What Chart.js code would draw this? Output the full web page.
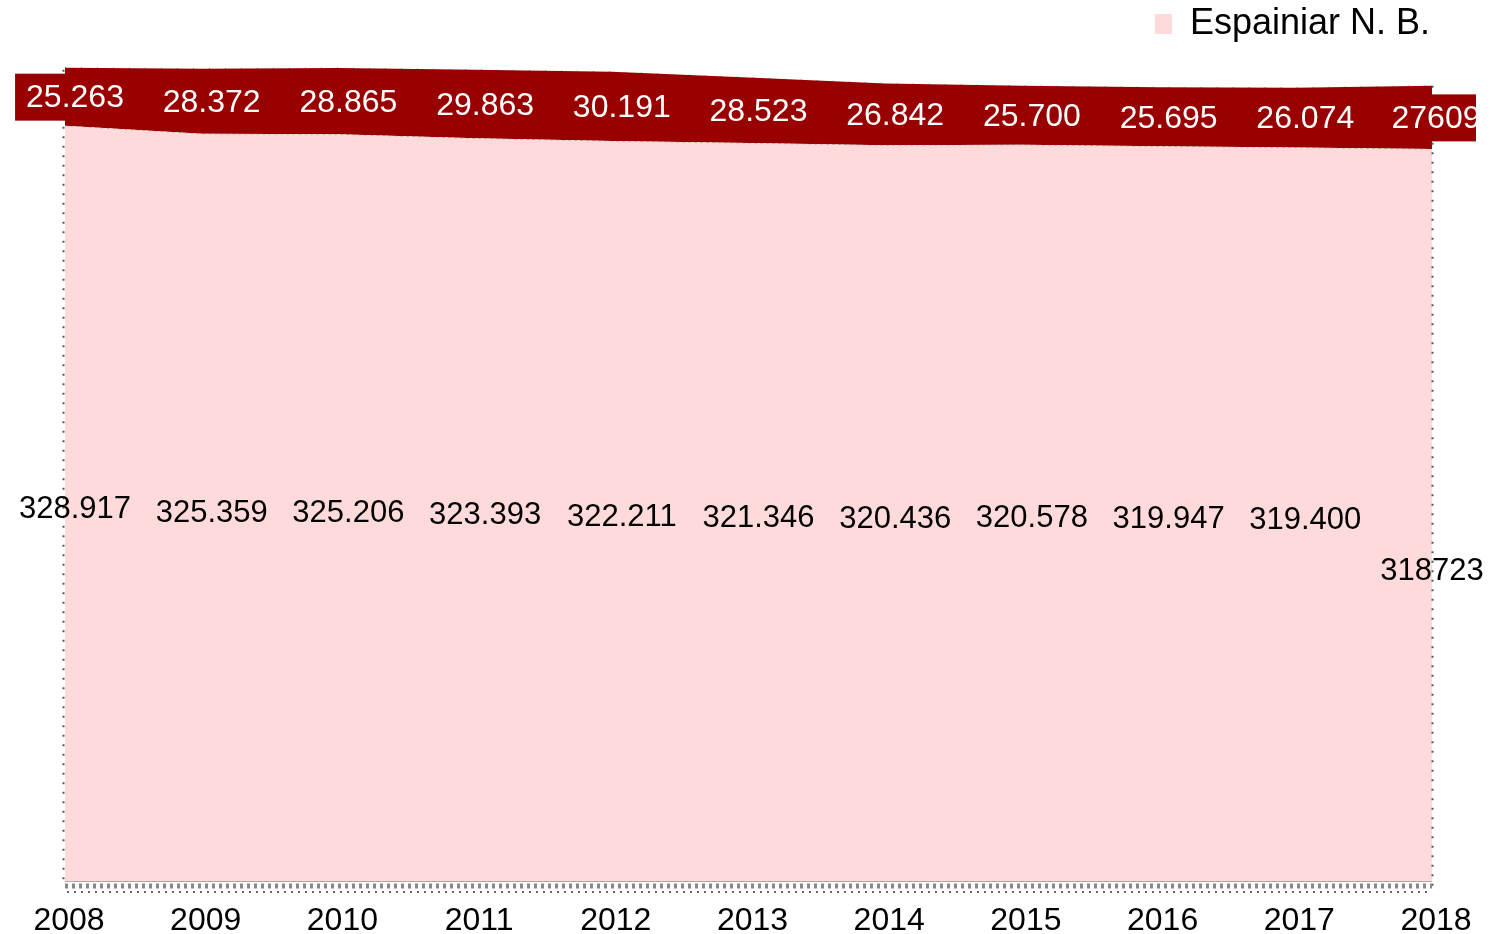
<!DOCTYPE html>
<html>
<head>
<meta charset="utf-8">
<script src="https://cdn.jsdelivr.net/npm/chart.js@4"></script>
<style>
  body { margin: 0; background: #fff; }
</style>
</head>
<body>
<canvas id="chart" width="1501" height="934"></canvas>
<script>
// Years on the x axis
const years = ['2008', '2009', '2010', '2011', '2012', '2013', '2014', '2015', '2016', '2017', '2018'];

// Espainiar N. B. (bottom, pink area)
const nbValues = [328917, 325359, 325206, 323393, 322211, 321346, 320436, 320578, 319947, 319400, 318723];
const nbLabels = ['328.917', '325.359', '325.206', '323.393', '322.211', '321.346', '320.436', '320.578', '319.947', '319.400', '318723'];

// Second series (top, dark red band)
const otherValues = [25263, 28372, 28865, 29863, 30191, 28523, 26842, 25700, 25695, 26074, 27609];
const otherLabels = ['25.263', '28.372', '28.865', '29.863', '30.191', '28.523', '26.842', '25.700', '25.695', '26.074', '27609'];

const pink = '#FFDADA';
const darkRed = '#990000';
const font = '"Liberation Sans", Arial, sans-serif';

// Draws the dotted frame lines and the value labels
const labelPlugin = {
    id: 'valueLabels',
    afterDatasetsDraw(chart) {
        const ctx = chart.ctx;
        const area = chart.chartArea;
        const yScale = chart.scales.y;
        const base = chart.getDatasetMeta(0).data;
        const top = chart.getDatasetMeta(1).data;
        const y0 = yScale.getPixelForValue(0);

        ctx.save();
        // dotted verticals at both sides
        ctx.strokeStyle = '#555';
        ctx.lineWidth = 2;
        ctx.setLineDash([2, 7.5]);
        ctx.beginPath();
        ctx.moveTo(area.left - 1.5, top[0].y + 2);
        ctx.lineTo(area.left - 1.5, y0 + 3);
        ctx.moveTo(area.right + 0.5, top[top.length - 1].y);
        ctx.lineTo(area.right + 0.5, y0 + 12);
        ctx.stroke();

        // bottom axis: gray line, hatch row and dots row
        ctx.setLineDash([]);
        ctx.lineWidth = 1;
        ctx.strokeStyle = '#aaa';
        ctx.beginPath();
        ctx.moveTo(area.left, y0 + 0.5);
        ctx.lineTo(area.right, y0 + 0.5);
        ctx.stroke();
        ctx.strokeStyle = '#888';
        ctx.lineWidth = 5;
        ctx.setLineDash([3, 4]);
        ctx.beginPath();
        ctx.moveTo(area.left, y0 + 5);
        ctx.lineTo(area.right, y0 + 5);
        ctx.stroke();
        ctx.strokeStyle = '#666';
        ctx.lineWidth = 2;
        ctx.setLineDash([2, 5]);
        ctx.beginPath();
        ctx.moveTo(area.left + 2, y0 + 11);
        ctx.lineTo(area.right, y0 + 11);
        ctx.stroke();
        ctx.restore();

        ctx.save();
        ctx.textAlign = 'center';
        ctx.textBaseline = 'middle';
        base.forEach((pt, i) => {
            const last = i === base.length - 1;
            const dx = last ? 0 : 10;

            // pink area label, in the middle of its band
            const py = (pt.y + y0) / 2 + (last ? 56 : 6);
            ctx.font = '31px ' + font;
            ctx.fillStyle = '#000';
            ctx.fillText(nbLabels[i], pt.x + dx, py);

            // dark red label with its own box
            ctx.font = '32px ' + font;
            const tx = pt.x + (last ? 4 : dx);
            const ty = (top[i].y + pt.y) / 2;
            const w = ctx.measureText(otherLabels[i]).width + 22;
            ctx.save();
            ctx.beginPath();
            ctx.rect(0, 0, area.right + 44, chart.height);
            ctx.clip();
            ctx.fillStyle = darkRed;
            ctx.fillRect(tx - w / 2, ty - 23, w, 47);
            ctx.fillStyle = '#fff';
            ctx.fillText(otherLabels[i], tx, ty + 2);
            ctx.restore();
        });
        ctx.restore();
    }
};

const ctx = document.getElementById('chart').getContext('2d');
new Chart(ctx, {
    type: 'line',
    data: {
        labels: years,
        datasets: [{
            label: 'Espainiar N. B.',
            data: nbValues,
            backgroundColor: pink,
            borderColor: 'rgba(90,90,90,0.5)',
            borderWidth: 1,
            borderDash: [2, 4],
            fill: 'origin',
            pointRadius: 0,
            tension: 0
        }, {
            label: 'Atzerritarrak',
            data: otherValues,
            backgroundColor: darkRed,
            borderColor: 'rgba(60,60,60,0.7)',
            borderWidth: 1,
            borderDash: [1, 15],
            fill: '-1',
            pointRadius: 0,
            tension: 0
        }]
    },
    options: {
        responsive: false,
        animation: false,
        layout: {
            padding: { left: 65, right: 69, top: 4, bottom: 0 }
        },
        plugins: {
            legend: {
                display: true,
                position: 'top',
                align: 'end',
                labels: {
                    generateLabels: chart => Chart.defaults.plugins.legend.labels.generateLabels(chart)
                        .filter(item => item.datasetIndex === 0)
                        .map(item => Object.assign(item, { lineWidth: 0, lineDash: [], strokeStyle: pink })),
                    boxWidth: 17,
                    boxHeight: 20,
                    padding: 2,
                    color: '#000',
                    font: { size: 36, family: font }
                }
            },
            tooltip: { enabled: false }
        },
        scales: {
            x: {
                offset: false,
                grid: { display: false, drawTicks: false },
                border: { display: false },
                afterFit: scale => { scale.height = 53; },
                ticks: {
                    color: '#000',
                    padding: 24,
                    labelOffset: 4,
                    maxRotation: 0,
                    font: { size: 32, family: font, lineHeight: 1 }
                }
            },
            y: {
                display: false,
                stacked: true,
                min: 0,
                max: 361000
            }
        }
    },
    plugins: [labelPlugin]
});
</script>
</body>
</html>
